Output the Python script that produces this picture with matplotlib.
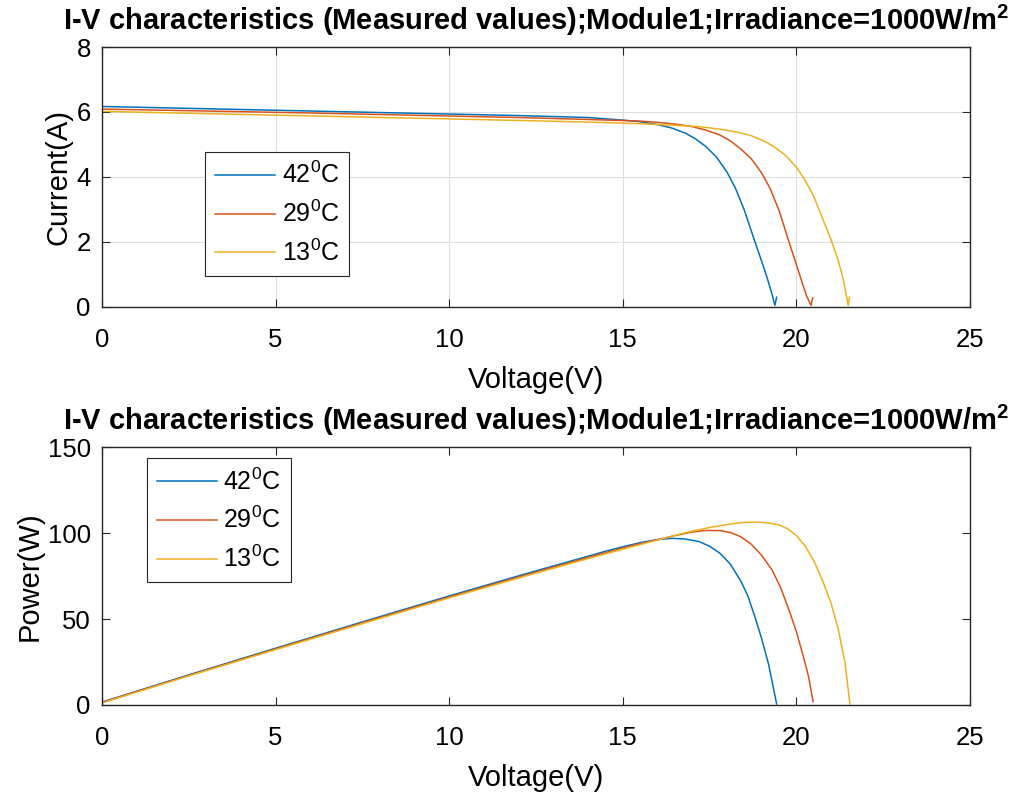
import numpy as np
import matplotlib
matplotlib.use("Agg")
import matplotlib.pyplot as plt

plt.rcParams['font.family'] = ['Liberation Sans', 'DejaVu Sans']
plt.rcParams['mathtext.fontset'] = 'custom'
plt.rcParams['mathtext.rm'] = 'Liberation Sans'
plt.rcParams['mathtext.bf'] = 'Liberation Sans:bold'
plt.rcParams['mathtext.default'] = 'regular'

labels = ['42$^0$C', '29$^0$C', '13$^0$C']
colors = ['#0072BD', '#D95319', '#EDB120']

# I-V curves
v_iv_42 = [0, 3, 6, 9, 12, 14, 15, 15.5, 16.0, 16.4, 16.8, 17.1, 17.4, 17.7, 18.0,
           18.25, 18.5, 18.75, 19.0, 19.15, 19.3, 19.38, 19.43]
i_iv_42 = [6.17, 6.10, 6.03, 5.96, 5.89, 5.83, 5.75, 5.70, 5.61, 5.51, 5.35, 5.17,
           4.93, 4.61, 4.15, 3.64, 2.98, 2.18, 1.40, 0.92, 0.38, 0.05, 0.3]
v_iv_29 = [0, 3, 6, 9, 12, 14, 15.5, 16.0, 16.5, 17.0, 17.4, 17.8, 18.1, 18.4, 18.7,
           19.0, 19.25, 19.5, 19.75, 20.0, 20.2, 20.3, 20.42, 20.47]
i_iv_29 = [6.09, 6.03, 5.97, 5.90, 5.83, 5.77, 5.72, 5.68, 5.63, 5.55, 5.44, 5.29,
           5.11, 4.86, 4.56, 4.12, 3.63, 2.97, 2.12, 1.30, 0.63, 0.32, 0.05, 0.28]
v_iv_13 = [0, 3, 6, 9, 12, 14, 15.5, 16.5, 17.2, 17.8, 18.3, 18.7, 19.1, 19.4, 19.7,
           20.0, 20.25, 20.5, 20.75, 21.0, 21.2, 21.35, 21.49, 21.53]
i_iv_13 = [6.02, 5.95, 5.88, 5.81, 5.74, 5.69, 5.64, 5.59, 5.55, 5.47, 5.38, 5.27,
           5.09, 4.90, 4.65, 4.30, 3.90, 3.40, 2.73, 2.06, 1.45, 0.85, 0.05, 0.3]

# P-V curves
v_pv_42 = [0.05, 2.5, 5, 7.5, 10, 12.5, 14, 14.5, 15, 15.5, 16.0, 16.4, 16.8, 17.2,
           17.5, 17.8, 18.1, 18.4, 18.6, 18.8, 19.0, 19.2, 19.43]
p_pv_42 = [2.0, 17.5, 33.0, 48.3, 63.4, 78, 86.5, 89.4, 92.0, 94.4, 96.2, 96.9, 96.5,
           95.0, 92.3, 88.2, 81.8, 72.0, 63.5, 51.5, 38.5, 23.5, 0.6]
v_pv_29 = [0.05, 2.5, 5, 7.5, 10, 12.5, 14, 15, 15.5, 16, 16.5, 17.0, 17.4, 17.8, 18.1,
           18.4, 18.7, 19.0, 19.3, 19.55, 19.8, 20.0, 20.2, 20.35, 20.48]
p_pv_29 = [1.8, 17.2, 32.6, 47.8, 62.8, 77.3, 85.8, 91.3, 93.8, 96.1, 98.5, 100.6,
           101.5, 101.4, 100.3, 97.8, 93.5, 87.0, 78.5, 68.0, 54.5, 42.5, 28.1, 16.5, 1.9]
v_pv_13 = [0.05, 2.5, 5, 7.5, 10, 12.5, 14, 15, 16, 16.5, 17, 17.5, 18.0, 18.3, 18.6,
           18.9, 19.2, 19.5, 19.75, 20.0, 20.25, 20.5, 20.75, 21.0, 21.2, 21.4, 21.54]
p_pv_13 = [1.5, 16.9, 32.2, 47.3, 62.3, 76.7, 85.1, 90.6, 95.9, 98.6, 101.1, 103.2,
           104.9, 105.8, 106.3, 106.3, 105.8, 104.7, 102.4, 98.5, 92.5, 83.8, 72.5,
           59.0, 44.5, 24.5, 0.6]

title = r'I-V characteristics (Measured values);Module1;Irradiance=1000W/m$^\mathbf{2}$'

fig = plt.figure(figsize=(10.29, 7.94), dpi=100)
ax1 = fig.add_axes([0.0991, 0.6134, 0.8436, 0.3274])
ax2 = fig.add_axes([0.0991, 0.1121, 0.8436, 0.3249])

for v, i, c, lab in zip([v_iv_42, v_iv_29, v_iv_13], [i_iv_42, i_iv_29, i_iv_13], colors, labels):
    ax1.plot(v, i, color=c, lw=1.1, label=lab)
for v, p, c, lab in zip([v_pv_42, v_pv_29, v_pv_13], [p_pv_42, p_pv_29, p_pv_13], colors, labels):
    ax2.plot(v, p, color=c, lw=1.1, label=lab)

ax1.set_ylim(0, 8)
ax1.set_yticks([0, 2, 4, 6, 8])
ax1.set_ylabel('Current(A)', fontsize=21, labelpad=3)
ax1.grid(True, color='#dedede', lw=0.8)
ax1.set_axisbelow(True)

ax2.set_ylim(0, 150)
ax2.set_yticks([0, 50, 100, 150])
ax2.set_ylabel('Power(W)', fontsize=21, labelpad=3)

for ax in (ax1, ax2):
    ax.set_xlim(0, 25)
    ax.set_xticks([0, 5, 10, 15, 20, 25])
    ax.set_xlabel('Voltage(V)', fontsize=21, labelpad=10)
    ax.set_title(title, fontsize=21, fontweight='bold', pad=12)
    ax.tick_params(direction='in', length=6, width=0.8, labelsize=18.5, colors='#262626',
                   top=True, right=True)
    ax.tick_params(axis='x', pad=15)
    ax.tick_params(axis='y', pad=8)
    ax.tick_params(labelcolor='black')
    for s in ax.spines.values():
        s.set_color('#262626')
        s.set_linewidth(1.0)

leg_kw = dict(fontsize=18, fancybox=False, framealpha=1, edgecolor='#262626',
              handlelength=2.4, handletextpad=0.25, borderpad=0.4, labelspacing=0.5,
              borderaxespad=0)
l1 = ax1.legend(loc='upper left', bbox_to_anchor=(0.119, 0.596), **leg_kw)
l2 = ax2.legend(loc='upper left', bbox_to_anchor=(0.052, 0.957), **leg_kw)
for l in (l1, l2):
    l.get_frame().set_linewidth(0.8)

fig.savefig('out.png', dpi=100)
